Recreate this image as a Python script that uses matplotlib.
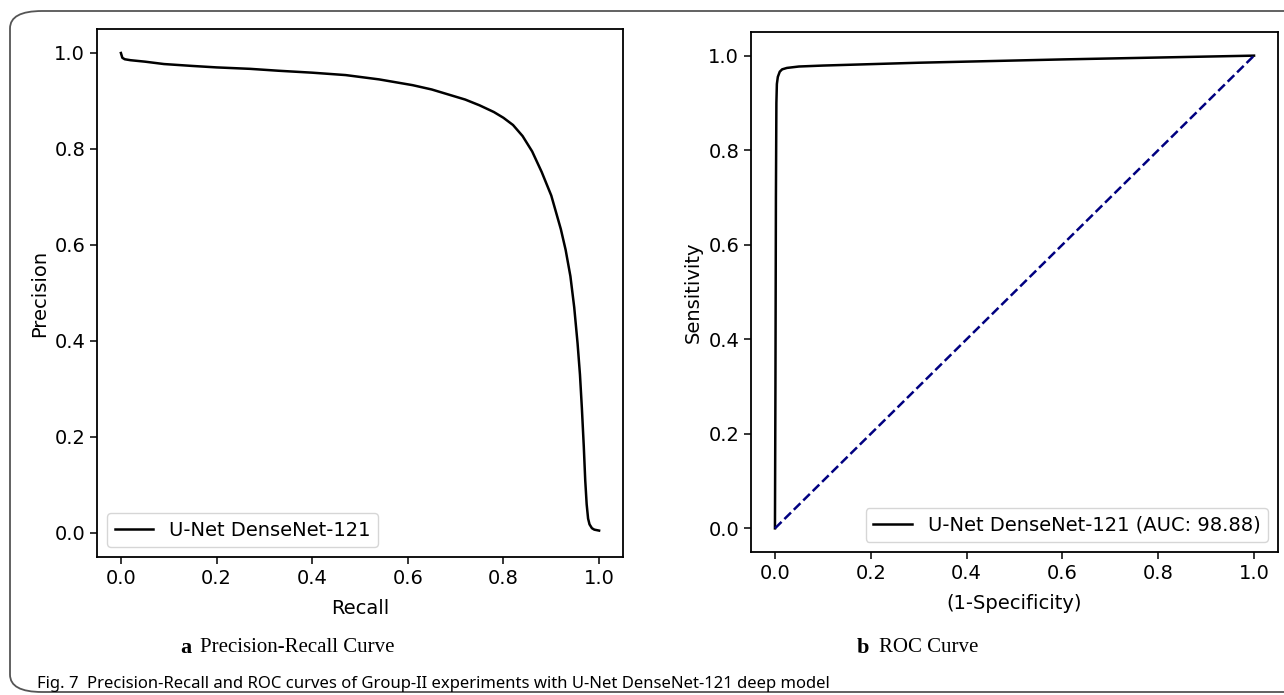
import numpy as np
from matplotlib import pyplot as plt
from matplotlib.patches import FancyBboxPatch

# -----------DATA------------------------------------------
recall = [0.0, 0.003, 0.008, 0.02, 0.05, 0.09, 0.15, 0.2, 0.27, 0.33, 0.4,
          0.47, 0.54, 0.61, 0.65, 0.68, 0.72, 0.75, 0.78, 0.8, 0.82, 0.84,
          0.86, 0.88, 0.9, 0.92, 0.93, 0.94, 0.948, 0.955, 0.96, 0.964, 0.968,
          0.971, 0.974, 0.977, 0.98, 0.985, 0.99, 1.0]
precision = [1.0, 0.99, 0.987, 0.985, 0.982, 0.977, 0.973, 0.97, 0.967, 0.963,
             0.959, 0.954, 0.945, 0.933, 0.924, 0.915, 0.903, 0.891, 0.877,
             0.865, 0.85, 0.827, 0.795, 0.752, 0.703, 0.633, 0.59, 0.535, 0.47,
             0.395, 0.33, 0.26, 0.18, 0.11, 0.06, 0.03, 0.018, 0.01, 0.007,
             0.005]

fpr = [0.0, 0.001, 0.002, 0.003, 0.004, 0.006, 0.01, 0.015, 0.025, 0.05, 0.1,
       0.3, 0.6, 1.0]
tpr = [0.0, 0.3, 0.7, 0.9, 0.94, 0.955, 0.966, 0.971, 0.974, 0.977, 0.979,
       0.985, 0.992, 1.0]

model_name = "U-Net DenseNet-121"
auc = 98.88
ticks = [0.0, 0.2, 0.4, 0.6, 0.8, 1.0]

W, H = 1284, 695
fs = 14


def px(x, y):
    """pixel position -> figure fraction"""
    return x / W, 1 - y / H


fig = plt.figure(figsize=(W / 100, H / 100), dpi=100)

# rounded outer frame (right edge runs off the picture)
frame = FancyBboxPatch(px(10, 692), 1320 / W, 681 / H,
                       boxstyle="round,pad=0,rounding_size=0.025",
                       transform=fig.transFigure, fill=False,
                       edgecolor="#555555", linewidth=1.3, clip_on=False)
fig.patches.append(frame)

ax1 = fig.add_axes([97 / W, 1 - 557 / H, 526 / W, 528 / H])
ax2 = fig.add_axes([751 / W, 1 - 552 / H, 527 / W, 520 / H])

# ----------------------PR curve---------------------------------------
ax1.plot(recall, precision, color="black", lw=1.8, label=model_name)
ax1.set_xlabel("Recall", fontsize=fs, labelpad=8)
ax1.set_ylabel("Precision", fontsize=fs)
ax1.legend(loc="lower left", fontsize=fs)

# ----------------------ROC curve--------------------------------------
ax2.plot(fpr, tpr, color="black", lw=1.8,
         label=f"{model_name} (AUC: {auc:.2f})")
ax2.plot([0, 1], [0, 1], color="navy", lw=1.8, linestyle="--")
ax2.set_xlabel("(1-Specificity)", fontsize=fs, labelpad=8)
ax2.set_ylabel("Sensitivity", fontsize=fs)
ax2.legend(loc="lower right", fontsize=fs)

for ax in (ax1, ax2):
    ax.set_xlim(-0.05, 1.05)
    ax.set_ylim(-0.05, 1.05)
    ax.set_xticks(ticks)
    ax.set_yticks(ticks)
    ax.tick_params(labelsize=fs, width=1.1, length=5)
    for s in ax.spines.values():
        s.set_linewidth(1.3)

# ----------------------captions---------------------------------------
fig.text(*px(180, 648), "a", fontsize=16, fontweight="bold",
         family="Liberation Serif", va="center")
fig.text(*px(200, 648), "Precision-Recall Curve", fontsize=15,
         family="Liberation Serif", va="center")
fig.text(*px(857, 648), "b", fontsize=16, fontweight="bold",
         family="Liberation Serif", va="center")
fig.text(*px(879, 648), "ROC Curve", fontsize=15,
         family="Liberation Serif", va="center")

cap_fs = 12
t_fig = fig.text(*px(37, 684), "Fig. 7", fontsize=cap_fs, fontweight="bold",
                 family="Noto Sans", va="center")
renderer = fig.canvas.get_renderer()
bb = t_fig.get_window_extent(renderer)
fig.text((bb.x1 + 8) / W, 1 - 684 / H,
         "Precision-Recall and ROC curves of Group-II experiments with "
         "U-Net DenseNet-121 deep model",
         fontsize=cap_fs, family="Noto Sans", va="center")

fig.savefig("out.png", dpi=100)
